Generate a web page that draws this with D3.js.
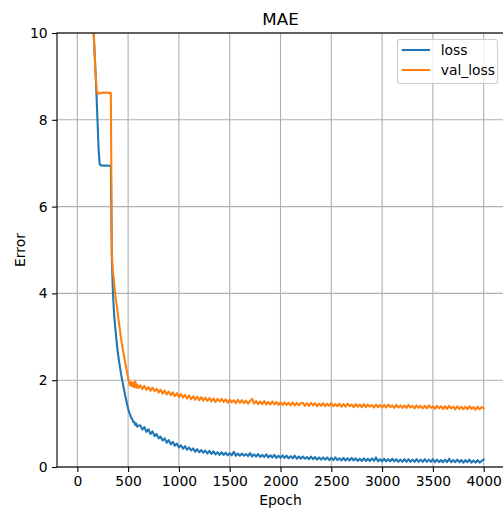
<!DOCTYPE html>
<html>
<head>
<meta charset="utf-8">
<script src="https://cdn.jsdelivr.net/npm/d3@7"></script>
<style>
  html, body { margin: 0; padding: 0; background: #fff; overflow: hidden; }
  svg { display: block; font-family: "DejaVu Sans", sans-serif; }
</style>
</head>
<body>
<svg id="chart" width="503" height="508"></svg>
<script>
// ---------------- data ----------------
const title = "MAE";
const xLabel = "Epoch";
const yLabel = "Error";
const seriesNames = ["loss", "val_loss"];
const xTicks = [0, 500, 1000, 1500, 2000, 2500, 3000, 3500, 4000];
const yTicks = [0, 2, 4, 6, 8, 10];

// epochs: every 10 up to 600, then every 20 up to 4000
const epochs = d3.range(0, 610, 10).concat(d3.range(620, 4001, 20));

// loss, epochs 0..600 (step 10)
const lossHead = [
  19.0, 18.4, 17.8, 17.2, 16.6, 16.0, 15.4, 14.8, 14.2, 13.7,
  13.2, 12.7, 12.2, 11.7, 11.2, 10.6, 10.05, 9.55, 9.05, 8.5,
  7.9, 7.3, 6.98, 6.95, 6.95, 6.94, 6.95, 6.94, 6.94, 6.95,
  6.94, 6.94, 6.94, 6.93, 4.8, 4.05, 3.6, 3.3, 3.05, 2.82,
  2.62, 2.45, 2.3, 2.15, 2.02, 1.9, 1.78, 1.66, 1.55, 1.44,
  1.35, 1.26, 1.21, 1.13, 1.11, 1.04, 1.04, 0.97, 1.0, 0.93,
  0.95
];
// loss, epochs 620..4000 (step 20)
const lossTail = [
  0.96, 0.86, 0.92, 0.81, 0.87, 0.76, 0.82, 0.71, 0.76, 0.66,
  0.70, 0.61, 0.66, 0.56, 0.62, 0.52, 0.58, 0.49, 0.54, 0.45,
  0.50, 0.42, 0.48, 0.40, 0.45, 0.38, 0.43, 0.35, 0.41, 0.34,
  0.39, 0.33, 0.38, 0.31, 0.37, 0.30, 0.36, 0.29, 0.34, 0.28,
  0.34, 0.28, 0.33, 0.27, 0.32, 0.27, 0.35, 0.26, 0.31, 0.26,
  0.31, 0.26, 0.30, 0.25, 0.32, 0.24, 0.29, 0.24, 0.30, 0.23,
  0.28, 0.23, 0.29, 0.22, 0.27, 0.22, 0.28, 0.21, 0.26, 0.21,
  0.27, 0.21, 0.26, 0.20, 0.25, 0.20, 0.26, 0.19, 0.24, 0.19,
  0.24, 0.19, 0.23, 0.18, 0.24, 0.18, 0.23, 0.17, 0.22, 0.17,
  0.22, 0.17, 0.22, 0.16, 0.21, 0.16, 0.22, 0.16, 0.20, 0.15,
  0.21, 0.15, 0.20, 0.15, 0.21, 0.15, 0.20, 0.14, 0.19, 0.14,
  0.20, 0.14, 0.19, 0.14, 0.20, 0.14, 0.22, 0.13, 0.18, 0.13,
  0.19, 0.13, 0.18, 0.13, 0.19, 0.13, 0.18, 0.12, 0.17, 0.12,
  0.18, 0.12, 0.18, 0.12, 0.17, 0.12, 0.18, 0.12, 0.17, 0.12,
  0.18, 0.12, 0.17, 0.12, 0.18, 0.11, 0.17, 0.11, 0.16, 0.11,
  0.17, 0.11, 0.19, 0.11, 0.16, 0.11, 0.17, 0.11, 0.16, 0.10,
  0.16, 0.11, 0.17, 0.10, 0.15, 0.10, 0.16, 0.10, 0.14, 0.17
];
// val_loss, epochs 0..600 (step 10)
const valLossHead = [
  19.0, 18.4, 17.8, 17.2, 16.6, 16.0, 15.4, 14.8, 14.2, 13.7,
  13.2, 12.7, 12.2, 11.7, 11.2, 10.6, 10.05, 9.55, 9.05, 8.7,
  8.6, 8.6, 8.61, 8.62, 8.62, 8.62, 8.63, 8.62, 8.62, 8.63,
  8.62, 8.62, 8.62, 8.62, 4.9, 4.5, 4.3, 4.05, 3.85, 3.7,
  3.5, 3.32, 3.15, 2.97, 2.82, 2.68, 2.55, 2.42, 2.3, 2.17,
  2.05, 1.95, 1.88, 1.96, 1.86, 1.94, 1.84, 1.98, 1.83, 1.90,
  1.82
];
// val_loss, epochs 620..4000 (step 20)
const valLossTail = [
  1.88, 1.80, 1.87, 1.78, 1.84, 1.76, 1.83, 1.75, 1.80, 1.72,
  1.78, 1.69, 1.76, 1.67, 1.74, 1.65, 1.72, 1.63, 1.70, 1.61,
  1.68, 1.60, 1.66, 1.58, 1.65, 1.56, 1.63, 1.55, 1.62, 1.54,
  1.61, 1.53, 1.60, 1.52, 1.59, 1.51, 1.58, 1.50, 1.57, 1.51,
  1.57, 1.50, 1.56, 1.48, 1.55, 1.49, 1.54, 1.47, 1.55, 1.48,
  1.54, 1.47, 1.53, 1.46, 1.52, 1.57, 1.46, 1.52, 1.45, 1.51,
  1.45, 1.52, 1.44, 1.50, 1.44, 1.51, 1.44, 1.50, 1.43, 1.49,
  1.43, 1.49, 1.43, 1.48, 1.42, 1.49, 1.42, 1.48, 1.42, 1.47,
  1.48, 1.41, 1.47, 1.41, 1.48, 1.42, 1.47, 1.40, 1.46, 1.41,
  1.47, 1.40, 1.46, 1.41, 1.47, 1.40, 1.45, 1.40, 1.46, 1.39,
  1.45, 1.39, 1.46, 1.40, 1.44, 1.38, 1.45, 1.39, 1.44, 1.38,
  1.45, 1.38, 1.44, 1.39, 1.43, 1.37, 1.44, 1.38, 1.43, 1.37,
  1.43, 1.37, 1.44, 1.38, 1.42, 1.36, 1.43, 1.37, 1.42, 1.36,
  1.42, 1.36, 1.43, 1.37, 1.41, 1.35, 1.42, 1.36, 1.41, 1.35,
  1.41, 1.35, 1.42, 1.36, 1.40, 1.34, 1.41, 1.35, 1.40, 1.34,
  1.40, 1.34, 1.41, 1.35, 1.39, 1.33, 1.40, 1.34, 1.39, 1.33,
  1.39, 1.33, 1.40, 1.34, 1.38, 1.32, 1.39, 1.33, 1.38, 1.35
];
const colors = ["#1f77b4", "#ff7f0e"];

// ---------------- chart ----------------
const svg = d3.select("#chart");
const L = 57, R = 504, T = 33, B = 467;
const x = d3.scaleLinear().domain([-200, 4200]).range([L, R]);
const y = d3.scaleLinear().domain([0, 10]).range([B, T]);

const lossVals = lossHead.concat(lossTail);
const valVals = valLossHead.concat(valLossTail);
const series = [
  { name: seriesNames[0], color: colors[0], pts: epochs.map((e, i) => [e, lossVals[i]]) },
  { name: seriesNames[1], color: colors[1], pts: epochs.map((e, i) => [e, valVals[i]]) }
];

svg.append("defs").append("clipPath").attr("id", "clip")
  .append("rect").attr("x", L).attr("y", T).attr("width", R - L).attr("height", B - T);

// grid
const grid = svg.append("g").attr("stroke", "#b0b0b0").attr("stroke-width", 1.1);
grid.selectAll("line.gx").data(xTicks).join("line")
  .attr("x1", d => x(d)).attr("x2", d => x(d)).attr("y1", T).attr("y2", B);
grid.selectAll("line.gy").data(yTicks).join("line")
  .attr("x1", L).attr("x2", R).attr("y1", d => y(d)).attr("y2", d => y(d));

// lines
const line = d3.line().x(d => x(d[0])).y(d => y(d[1]));
svg.append("g").attr("clip-path", "url(#clip)")
  .selectAll("path").data(series).join("path")
  .attr("d", d => line(d.pts))
  .attr("fill", "none")
  .attr("stroke", d => d.color)
  .attr("stroke-width", 2.08)
  .attr("stroke-linejoin", "round")
  .attr("stroke-linecap", "square");

// axes
const xAxis = d3.axisBottom(x).tickValues(xTicks).tickSize(4.9).tickPadding(4.5).tickFormat(d3.format("d"));
const yAxis = d3.axisLeft(y).tickValues(yTicks).tickSize(4.9).tickPadding(4.5).tickFormat(d3.format("d"));
const gx = svg.append("g").attr("transform", `translate(0,${B})`).call(xAxis);
const gy = svg.append("g").attr("transform", `translate(${L},0)`).call(yAxis);
[gx, gy].forEach(g => {
  g.select(".domain").remove();
  g.selectAll(".tick line").attr("stroke", "#000").attr("stroke-width", 1.1);
  g.selectAll(".tick text").attr("fill", "#000")
    .style("font-family", "'DejaVu Sans', sans-serif").style("font-size", "13.9px");
});

// spines
svg.append("rect").attr("x", L).attr("y", T).attr("width", R - L).attr("height", B - T)
  .attr("fill", "none").attr("stroke", "#000").attr("stroke-width", 1.1);

// title & labels
svg.append("text").attr("x", (L + R) / 2).attr("y", 25).attr("text-anchor", "middle")
  .style("font-size", "16.7px").attr("fill", "#000").text(title);
svg.append("text").attr("x", (L + R) / 2).attr("y", 504.5).attr("text-anchor", "middle")
  .style("font-size", "13.9px").attr("fill", "#000").text(xLabel);
svg.append("text").attr("transform", `translate(25,${(T + B) / 2}) rotate(-90)`)
  .attr("text-anchor", "middle").style("font-size", "13.9px").attr("fill", "#000").text(yLabel);

// legend
const lg = svg.append("g");
lg.append("rect").attr("x", 397.5).attr("y", 39.5).attr("width", 100).attr("height", 44).attr("rx", 2.5)
  .attr("fill", "#fff").attr("fill-opacity", 0.8).attr("stroke", "#cccccc").attr("stroke-width", 1.1);
series.forEach((s, i) => {
  const yy = 50 + i * 20;
  lg.append("line").attr("x1", 401.7).attr("x2", 430).attr("y1", yy).attr("y2", yy)
    .attr("stroke", s.color).attr("stroke-width", 2.08);
  lg.append("text").attr("x", 440.7).attr("y", yy + 5).style("font-size", "13.9px")
    .attr("fill", "#000").text(s.name);
});
</script>
</body>
</html>
